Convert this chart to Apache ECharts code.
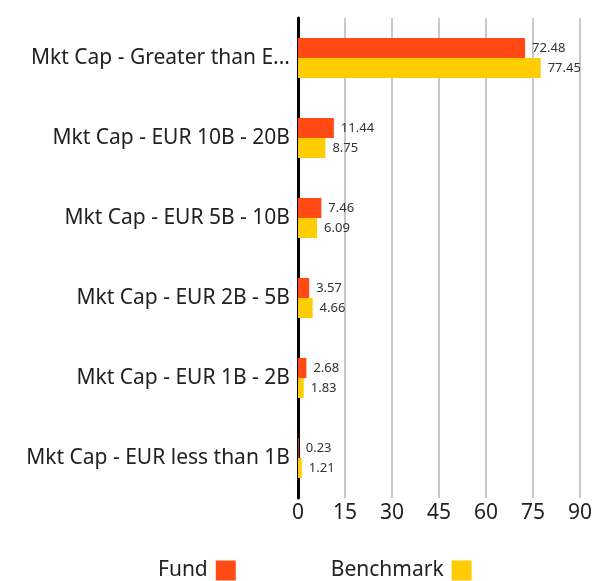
<!DOCTYPE html>
<html>
<head>
<meta charset="utf-8">
<script src="https://cdn.jsdelivr.net/npm/echarts@6/dist/echarts.min.js"></script>
<style>
  html, body { margin: 0; padding: 0; background: #fff; }
  #chart { width: 604px; height: 581px; }
</style>
</head>
<body>
<div id="chart"></div>
<script>
const categories = [
  'Mkt Cap - Greater than EUR 20B',
  'Mkt Cap - EUR 10B - 20B',
  'Mkt Cap - EUR 5B - 10B',
  'Mkt Cap - EUR 2B - 5B',
  'Mkt Cap - EUR 1B - 2B',
  'Mkt Cap - EUR less than 1B'
];
const fund = [72.48, 11.44, 7.46, 3.57, 2.68, 0.23];
const benchmark = [77.45, 8.75, 6.09, 4.66, 1.83, 1.21];
const seriesNames = ['Fund', 'Benchmark'];

const color = ['#FF4A14', '#FFCC00'];
const font = '"Noto Sans", sans-serif';

const myChart = echarts.init(document.getElementById('chart'));

const option = {
  textStyle: { fontFamily: font },
  legend: {
    top: 555,
    left: 153,
    align: 'right',
    itemWidth: 20,
    itemHeight: 20,
    itemGap: 95,
    icon: 'rect',
    textStyle: { fontSize: 21, color: '#222', fontFamily: font, padding: [0, 3, 0, 0] }
  },
  grid: {
    left: 298,
    right: 24,
    top: 18,
    bottom: 83
  },
  xAxis: {
    type: 'value',
    min: 0,
    max: 90,
    interval: 15,
    axisLine: { show: false },
    axisTick: { show: false },
    axisLabel: { fontSize: 21, color: '#222', margin: 5, fontFamily: font },
    splitLine: { lineStyle: { color: '#c8c8c8', width: 2 } }
  },
  yAxis: {
    type: 'category',
    inverse: true,
    data: categories,
    axisLine: { lineStyle: { color: '#000', width: 3 } },
    axisTick: { show: false },
    axisLabel: {
      fontSize: 21,
      color: '#222',
      margin: 8,
      width: 268,
      overflow: 'truncate',
      fontFamily: font
    }
  },
  series: [fund, benchmark].map((d, i) => ({
    name: seriesNames[i],
    type: 'bar',
    data: d,
    barGap: 0,
    barCategoryGap: '50%',
    itemStyle: { color: color[i] },
    label: {
      show: true,
      position: 'right',
      distance: 7,
      fontSize: 13,
      color: '#333',
      fontFamily: font
    }
  }))
};

myChart.setOption(option);
</script>
</body>
</html>
